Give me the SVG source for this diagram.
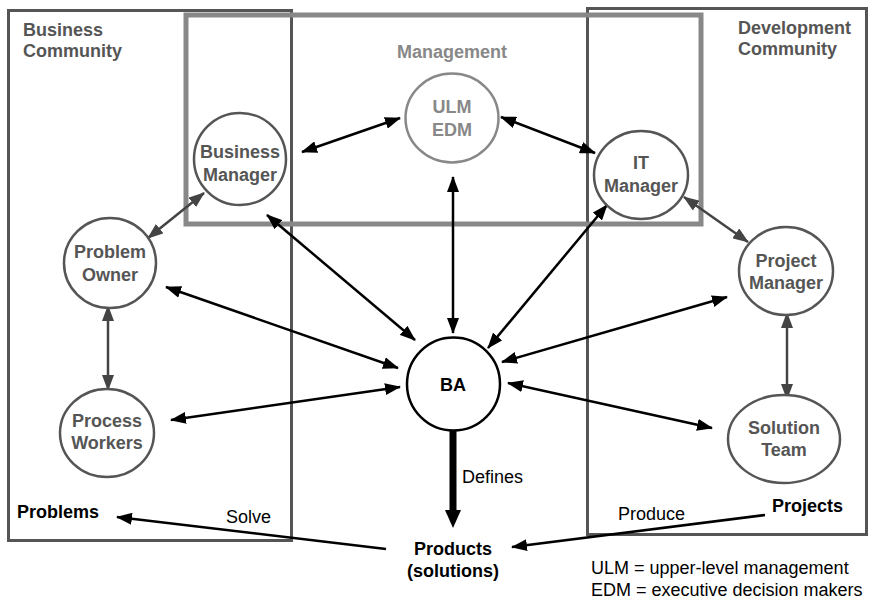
<svg xmlns="http://www.w3.org/2000/svg" width="873" height="602" viewBox="0 0 873 602">
  <style>
    text { font-family: "Liberation Sans", Arial, sans-serif; font-size: 18px; }
    .b { font-weight: bold; }
    .mid { text-anchor: middle; }
    .grey { fill: #555; }
    .light { fill: #888; }
    .node { fill: #fff; stroke: #555; stroke-width: 2.5; }
    .region { fill: none; stroke: #555; stroke-width: 3; }
    .mgmt { fill: none; stroke: #888; stroke-width: 5; }
    .blk { stroke: #000; stroke-width: 2.5; fill: none; marker-end: url(#ah); marker-start: url(#ah); }
    .gry { stroke: #444; stroke-width: 2.5; fill: none; marker-end: url(#ahg); marker-start: url(#ahg); }
    .one { stroke: #000; stroke-width: 2.5; fill: none; marker-end: url(#ah); }
  </style>
  <defs>
    <marker id="ah" markerUnits="userSpaceOnUse" markerWidth="16" markerHeight="12" refX="15" refY="6" orient="auto-start-reverse">
      <path d="M0,0 L16,6 L0,12 z" fill="#000"/>
    </marker>
    <marker id="ahg" markerUnits="userSpaceOnUse" markerWidth="16" markerHeight="12" refX="15" refY="6" orient="auto-start-reverse">
      <path d="M0,0 L16,6 L0,12 z" fill="#444"/>
    </marker>
    <marker id="ahb" markerUnits="userSpaceOnUse" markerWidth="18" markerHeight="16" refX="0" refY="8" orient="auto">
      <path d="M0,0 L18,8 L0,16 z" fill="#000"/>
    </marker>
  </defs>

  <rect width="873" height="602" fill="#fff"/>

  <!-- community regions and management band -->
  <g id="business-community">
    <rect class="region" x="8.5" y="10.5" width="283" height="530"/>
    <text class="b grey" x="23" y="36">Business</text>
    <text class="b grey" x="23" y="57">Community</text>
  </g>
  <g id="development-community">
    <rect class="region" x="587.5" y="8.5" width="279" height="526"/>
    <text class="b grey" x="738" y="34">Development</text>
    <text class="b grey" x="738" y="55">Community</text>
  </g>
  <g id="management">
    <rect class="mgmt" x="186" y="15" width="515" height="209"/>
    <text class="b light mid" x="452" y="58">Management</text>
  </g>

  <!-- connectors -->
  <g id="connectors">
    <line class="blk" x1="302" y1="152" x2="400" y2="118"/>
    <line class="blk" x1="501" y1="117" x2="595" y2="153"/>
    <line class="blk" x1="453" y1="177" x2="453" y2="333"/>
    <line class="blk" x1="267" y1="215" x2="415" y2="340"/>
    <line class="blk" x1="607" y1="205" x2="488" y2="348"/>
    <line class="blk" x1="166" y1="287" x2="398" y2="368"/>
    <line class="blk" x1="171" y1="420" x2="400" y2="387"/>
    <line class="blk" x1="727" y1="297" x2="502" y2="362"/>
    <line class="blk" x1="508" y1="383" x2="712" y2="428"/>
    <line class="gry" x1="204" y1="193" x2="148" y2="238"/>
    <line class="gry" x1="108" y1="306" x2="108" y2="390"/>
    <line class="gry" x1="684" y1="197" x2="748" y2="242"/>
    <line class="gry" x1="787" y1="313" x2="787" y2="399"/>
    <line stroke="#000" stroke-width="7" x1="453" y1="430" x2="453" y2="510" marker-end="url(#ahb)"/>
    <line class="one" x1="386" y1="549" x2="117" y2="517"/>
    <line class="one" x1="765" y1="515" x2="512" y2="547"/>
  </g>

  <!-- nodes -->
  <g id="business-manager">
    <circle class="node" cx="240" cy="159" r="46"/>
    <text class="b grey mid" x="240" y="158">Business</text>
    <text class="b grey mid" x="240" y="181">Manager</text>
  </g>
  <g id="ulm-edm">
    <ellipse class="node" style="stroke:#888" cx="452" cy="118" rx="46.5" ry="44.5"/>
    <text class="b light mid" x="452" y="113">ULM</text>
    <text class="b light mid" x="452" y="136">EDM</text>
  </g>
  <g id="it-manager">
    <ellipse class="node" cx="641" cy="175" rx="47" ry="44"/>
    <text class="b grey mid" x="641" y="169">IT</text>
    <text class="b grey mid" x="641" y="192">Manager</text>
  </g>
  <g id="problem-owner">
    <ellipse class="node" cx="110" cy="263" rx="46" ry="45"/>
    <text class="b grey mid" x="110" y="258">Problem</text>
    <text class="b grey mid" x="110" y="281">Owner</text>
  </g>
  <g id="project-manager">
    <ellipse class="node" cx="786" cy="271" rx="47" ry="44"/>
    <text class="b grey mid" x="786" y="267">Project</text>
    <text class="b grey mid" x="786" y="289">Manager</text>
  </g>
  <g id="process-workers">
    <ellipse class="node" cx="107" cy="433" rx="47" ry="44"/>
    <text class="b grey mid" x="107" y="427">Process</text>
    <text class="b grey mid" x="107" y="449">Workers</text>
  </g>
  <g id="solution-team">
    <ellipse class="node" cx="784" cy="439" rx="56" ry="44"/>
    <text class="b grey mid" x="784" y="434">Solution</text>
    <text class="b grey mid" x="784" y="456">Team</text>
  </g>
  <g id="ba">
    <circle cx="453.5" cy="384" r="46.5" fill="#fff" stroke="#000" stroke-width="2.5"/>
    <text class="b mid" x="453" y="391">BA</text>
  </g>

  <!-- outcome labels -->
  <g id="labels">
    <text x="462" y="483">Defines</text>
    <text class="b" x="17" y="518">Problems</text>
    <text x="226" y="523">Solve</text>
    <text x="618" y="520">Produce</text>
    <text class="b" x="772" y="512">Projects</text>
    <text class="b mid" x="453" y="555">Products</text>
    <text class="b mid" x="453" y="577">(solutions)</text>
    <text x="591" y="574">ULM = upper-level management</text>
    <text x="591" y="596">EDM = executive decision makers</text>
  </g>
</svg>
